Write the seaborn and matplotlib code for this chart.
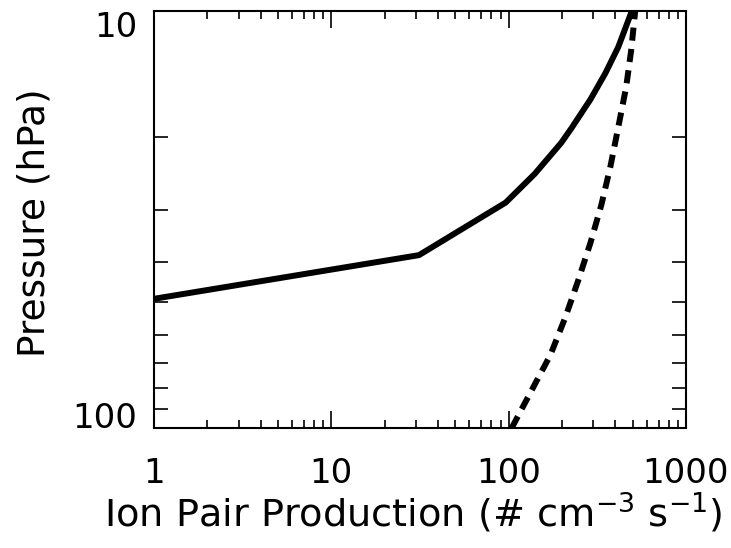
import matplotlib
matplotlib.use("Agg")
import matplotlib.pyplot as plt
import seaborn as sns
import pandas as pd
import numpy as np
from matplotlib.ticker import FixedLocator, NullFormatter, FixedFormatter

# Solid curve: ion pair production vs pressure
solid_x = [1.0, 31.2, 96.2, 140, 198, 226, 289, 351, 415, 495]
solid_p = [49.0, 38.5, 28.8, 24.6, 20.7, 19.1, 16.3, 14.1, 12.2, 10.0]

# Dashed curve
dash_x = [104, 135, 172, 209, 247, 289, 333, 374, 415, 460, 491, 517]
dash_p = [100, 81.1, 66.8, 54.2, 44.2, 36.0, 29.2, 23.7, 19.0, 15.2, 12.4, 10.0]

x_ticks = [1, 10, 100, 1000]
x_tick_labels = ["1", "10", "100", "1000"]
y_ticks = [10, 100]
y_tick_labels = ["10", "100"]

sns.set_style("white")
plt.rcParams['font.family'] = ['DejaVu Sans']
plt.rcParams['text.color'] = 'black'
plt.rcParams['axes.labelcolor'] = 'black'

fig = plt.figure(figsize=(7.31, 5.48), dpi=100)
ax = fig.add_axes([154/731, 1-428/548, (686-154)/731, (428-11)/548])

df_s = pd.DataFrame({"x": solid_x, "p": solid_p})
df_d = pd.DataFrame({"x": dash_x, "p": dash_p})

sns.lineplot(data=df_s, x="x", y="p", sort=False, estimator=None, ax=ax,
             color="black", lw=4.3, solid_capstyle="butt")
sns.lineplot(data=df_d, x="x", y="p", sort=False, estimator=None, ax=ax,
             color="black", lw=4.3, dashes=False)
ax.lines[-1].set_linestyle((0, (2.2, 1.4)))
ax.lines[-1].set_dash_capstyle("butt")

ax.set_xscale("log")
ax.set_yscale("log")
ax.set_xlim(1, 1000)
ax.set_ylim(100, 10)

for s in ax.spines.values():
    s.set_linewidth(1.5)
    s.set_color("black")

ax.xaxis.set_major_locator(FixedLocator(x_ticks))
ax.xaxis.set_major_formatter(FixedFormatter(x_tick_labels))
ax.xaxis.set_minor_locator(FixedLocator([m * d for d in [1, 10, 100] for m in range(2, 10)]))
ax.xaxis.set_minor_formatter(NullFormatter())
ax.yaxis.set_major_locator(FixedLocator(y_ticks))
ax.yaxis.set_major_formatter(FixedFormatter(y_tick_labels))
ax.yaxis.set_minor_locator(FixedLocator([20, 30, 40, 50, 60, 70, 80, 90]))
ax.yaxis.set_minor_formatter(NullFormatter())

ax.tick_params(axis="x", which="major", direction="in", length=12, width=1.2,
               top=True, bottom=True, labelsize=24.5, pad=21, colors="black")
ax.tick_params(axis="x", which="minor", direction="in", length=6, width=1.2,
               top=True, bottom=True, colors="black")
ax.tick_params(axis="y", which="major", direction="in", length=10, width=1.2,
               left=True, right=True, labelsize=24.5, pad=12, colors="black")
ax.tick_params(axis="y", which="minor", direction="in", length=10, width=1.2,
               left=True, right=True, colors="black")

fig.canvas.draw()
ylabs = ax.get_yticklabels()
ylabs[0].set_va("top")
ylabs[1].set_va("baseline")

ax.set_xlabel(r"Ion Pair Production (# cm$^{-3}$ s$^{-1}$)", fontsize=27.5)
ax.xaxis.set_label_coords(0.487, -0.2374)
ax.xaxis.label.set_va("baseline")
ax.set_ylabel("Pressure (hPa)", fontsize=27)
ax.yaxis.set_label_coords(-0.225, 0.493)
ax.yaxis.label.set_va("center")

fig.savefig("out.png", dpi=100, facecolor="white")
